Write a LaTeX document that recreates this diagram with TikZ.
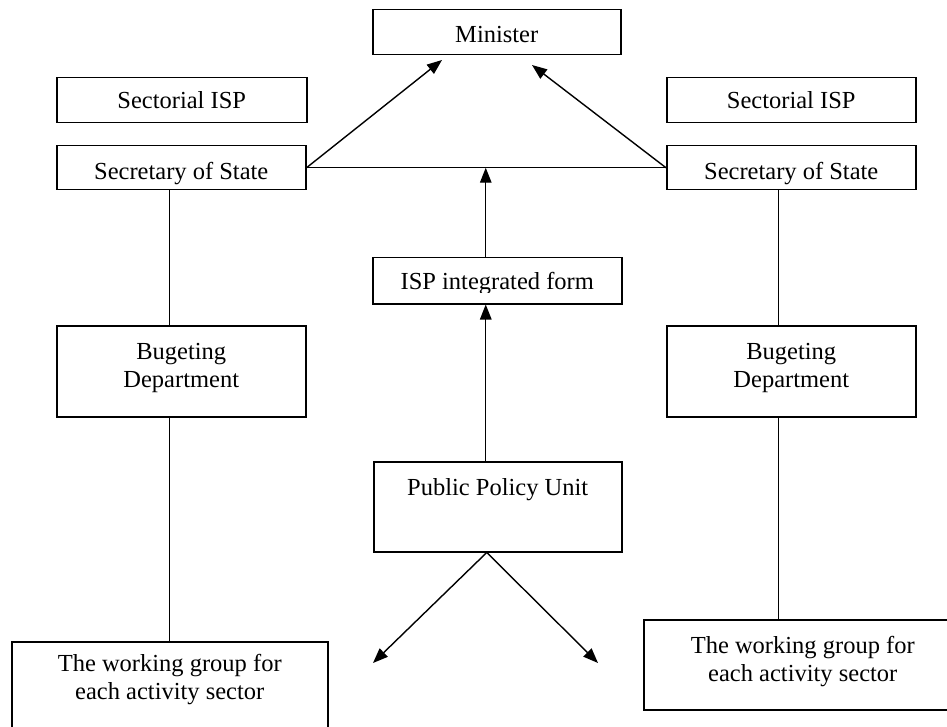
\documentclass[tikz,border=0pt]{standalone}
\usepackage{fontspec}
\setmainfont{Liberation Serif}
\usetikzlibrary{arrows.meta,calc}
\begin{document}
\begin{tikzpicture}[x=1pt,y=-1pt,
  box/.style={draw, line width=1.5pt, inner sep=0pt, anchor=north west},
  lbl/.style={inner sep=0pt, anchor=base, align=center, font=\fontsize{24.5}{28}\selectfont},
  conn/.style={line width=1.4pt},
  arr/.style={conn, -{Triangle[length=15pt,width=11.5pt]}}]
\clip (0,0) rectangle (947,727);
\fill[white] (0,0) rectangle (947,727);
% boxes
\node[box, minimum width=248pt, minimum height=45pt] (min) at (372,9) {};
\node[box, minimum width=250pt, minimum height=45pt] (secL) at (56,77) {};
\node[box, minimum width=249pt, minimum height=44pt] (sosL) at (56,145) {};
\node[box, minimum width=249pt, minimum height=45pt] (secR) at (666,77) {};
\node[box, minimum width=249pt, minimum height=44pt] (sosR) at (666,145) {};
\node[box, minimum width=249pt, minimum height=46pt] (isp) at (372,257) {};
\node[box, minimum width=249pt, minimum height=91pt] (budL) at (56,325) {};
\node[box, minimum width=249pt, minimum height=91pt] (budR) at (666,325) {};
\node[box, minimum width=248pt, minimum height=90pt] (ppu) at (373,461) {};
\node[box, minimum width=316pt, minimum height=100pt] (wgL) at (11,641) {};
\node[box, minimum width=318pt, minimum height=90pt] (wgR) at (643,619) {};
% texts
\node[lbl] (tMin) at ($(min.north)+(0,34)$) {Minister};
\node[lbl] (tSecL) at ($(secL.north)+(0,32)$) {Sectorial ISP};
\node[lbl] (tSecR) at ($(secR.north)+(0,32)$) {Sectorial ISP};
\begin{scope}
\clip (56,145) rectangle (305,186);
\node[lbl] (tSosL) at ($(sosL.north)+(0,35)$) {Secretary of State};
\end{scope}
\begin{scope}
\clip (666,145) rectangle (915,186);
\node[lbl] (tSosR) at ($(sosR.north)+(0,35)$) {Secretary of State};
\end{scope}
\begin{scope}
\clip (372,257) rectangle (621,292);
\node[lbl] (tIsp) at ($(isp.north)+(0,32)$) {ISP integrated form};
\end{scope}
\node[lbl] (tBudL) at ($(budL.north)+(0,62)$) {Bugeting\\Department};
\node[lbl] (tBudR) at ($(budR.north)+(0,62)$) {Bugeting\\Department};
\node[lbl] (tPpu) at ($(ppu.north)+(0,34)$) {Public Policy Unit};
\node[lbl] (tWgL) at ($(wgL.north)+(0,58)$) {The working group for\\each activity sector};
\node[lbl] (tWgR) at ($(wgR.north)+(0,62)$) {The working group for\\each activity sector};
% connectors
\coordinate (tipL) at (442,60);
\coordinate (tipR) at (532,65);
\coordinate (tipBL) at (373,663);
\coordinate (tipBR) at (598,663);
\draw[conn] (sosL.east) -- (sosR.west);
\draw[arr] (sosL.east) -- (tipL);
\draw[arr] (sosR.west) -- (tipR);
\draw[arr] ([xshift=-11.5pt]isp.north) -- ([xshift=-11.5pt]isp.north |- sosL.east);
\draw[arr] ([xshift=-12pt]ppu.north) -- ([xshift=-11.5pt]isp.south);
\draw[arr] ([xshift=-11pt]ppu.south) -- (tipBL);
\draw[arr] ([xshift=-11pt]ppu.south) -- (tipBR);
\draw[conn] ([xshift=-11.5pt]sosL.south) -- ([xshift=-11.5pt]budL.north);
\draw[conn] (budL.south -| wgL.north) -- (wgL.north);
\draw[conn] ([xshift=-12.5pt]sosR.south) -- ([xshift=-12.5pt]budR.north);
\draw[conn] ([xshift=-12.5pt]budR.south) -- ([xshift=-12.5pt]budR.south |- wgR.north);
\end{tikzpicture}
\end{document}
